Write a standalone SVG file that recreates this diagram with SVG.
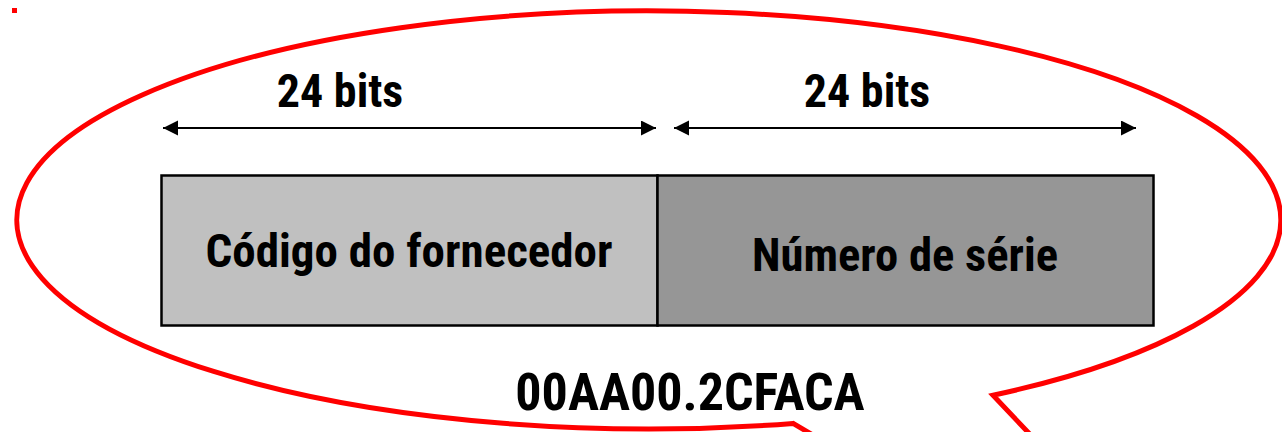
<svg xmlns="http://www.w3.org/2000/svg" width="1282" height="432" viewBox="0 0 1282 432">
<style>
.t{font-family:"Liberation Sans Narrow","Roboto Condensed","Liberation Sans",Arial,sans-serif;font-weight:bold;fill:#000;text-anchor:middle}
.box{stroke:#000;stroke-width:2.5}
.arr{stroke:#000;stroke-width:2;fill:none;marker-start:url(#ah);marker-end:url(#ah)}
</style>
<defs>
<marker id="ah" markerUnits="userSpaceOnUse" markerWidth="16" markerHeight="16" refX="15" refY="7.5" orient="auto-start-reverse">
<path d="M0,0 L15,7.5 L0,15 z" fill="#000"/>
</marker>
</defs>
<rect x="0" y="0" width="1282" height="432" fill="#fff"/>
<rect id="dot" x="12" y="8" width="5" height="5" fill="#f00"/>
<g id="callout">
<path d="M993,395.2 A632,209 0 1 0 793,423.4 L1300,720 Z" fill="none" stroke="#f00" stroke-width="5" stroke-linejoin="miter"/>
</g>
<g id="connectors">
<line class="arr" x1="163" y1="128" x2="656" y2="128"/>
<line class="arr" x1="674" y1="128" x2="1136" y2="128"/>
</g>
<g id="label-left">
<text class="t" x="340" y="107" font-size="46">24 bits</text>
</g>
<g id="label-right">
<text class="t" x="867" y="107" font-size="46">24 bits</text>
</g>
<g id="vendor">
<rect class="box" x="161.5" y="175.5" width="496" height="150" fill="#c0c0c0"/>
<text class="t" x="409" y="267" font-size="47">Código do fornecedor</text>
</g>
<g id="serial">
<rect class="box" x="657.5" y="175.5" width="496" height="150" fill="#969696"/>
<text class="t" x="905" y="271" font-size="46.6">Número de série</text>
</g>
<g id="address">
<text class="t" x="690" y="410" font-size="52">00AA00.2CFACA</text>
</g>
</svg>
